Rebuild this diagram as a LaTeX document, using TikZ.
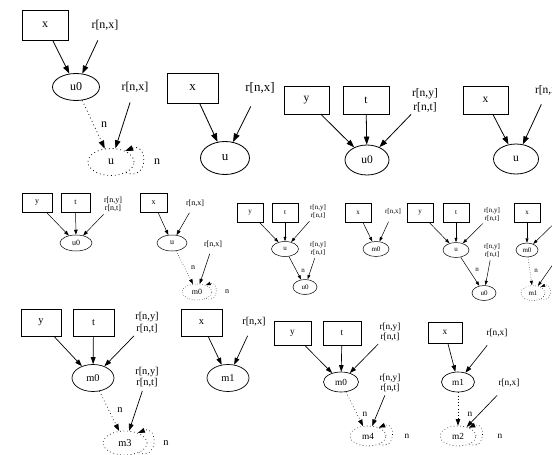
\documentclass[tikz,border=0pt]{standalone}
\usepackage{fontspec}
\setmainfont{Liberation Serif}
\usetikzlibrary{arrows.meta,shapes.geometric}
\tikzset{
  bx/.style 2 args={draw, rectangle, minimum width=#1pt, minimum height=#2pt, inner sep=0pt},
  el/.style 2 args={draw, ellipse, minimum width=#1pt, minimum height=#2pt, inner sep=0pt},
  del/.style 2 args={el={#1}{#2}, gd},
  lb/.style={inner sep=1pt, minimum height=#1pt, align=center},
  gd/.style={dash pattern=on .8pt off 3pt},
  pnl/.style n args={5}{font=\fontsize{#1}{#2}\selectfont, line width=#3pt,
     >={Triangle[length=#4pt,width=#5pt]}},
}
\newcommand\gloop[3]{\draw[->,gd] (#1.-35) .. controls +(#2,#3) and +(#2,-#3) .. (#1.38);}
\begin{document}
\begin{tikzpicture}[x=1pt,y=-1pt]
\useasboundingbox (0,0) rectangle (552,455);
\clip (0,0) rectangle (552,455);
\fill[white] (0,0) rectangle (552,455);

% ---------- Panel A ----------
\begin{scope}[pnl={12}{14}{.8}{8}{5.5}]
\node[bx={46}{30}] (xA) at (45,25) {x};
\node[lb=30] (rA1) at (105,25) {r[n,x]};
\node[el={47}{27}] (u0A) at (76,87) {u0};
\node[lb=30] (rA2) at (135,87) {r[n,x]};
\node[del={46}{27}] (uA) at (111,162) {u};
\draw[->] (xA) -- (u0A);
\draw[->] (rA1) -- (u0A);
\draw[->,gd] (u0A) -- (uA);
\node (nA1) at (104,125) {n};
\draw[->] (rA2) -- (uA);
\gloop{uA}{23}{9}
\node (nA2) at (157,162) {n};
\end{scope}

% ---------- Panel B ----------
\begin{scope}[pnl={13}{15}{.85}{8.5}{6}]
\node[bx={51}{30}] (xB) at (192.5,88) {x};
\node[lb=36] (rB) at (260,88) {r[n,x]};
\node[el={49}{33}] (uB) at (225,158) {u};
\draw[->] (xB) -- (uB);
\draw[->] (rB) -- (uB);
\end{scope}

% ---------- Panel C ----------
\begin{scope}[pnl={11.5}{14}{.8}{8}{5.5}]
\node[bx={45}{28}] (yC) at (306.5,100) {y};
\node[bx={46}{28}] (tC) at (366,100) {t};
\node[lb=28] (rC) at (425,100) {r[n,y]\\r[n,t]};
\node[el={44}{30}] (u0C) at (367,160) {u0};
\draw[->] (yC) -- (u0C);
\draw[->] (tC) -- (u0C);
\draw[->] (rC) -- (u0C);
\end{scope}

% ---------- Panel D ----------
\begin{scope}[pnl={11.5}{14}{.8}{8}{5.5}]
\node[bx={45}{28}] (xD) at (485.5,100) {x};
\node[lb=28] (rD) at (548,90) {r[n,x]};
\node[el={45}{30}] (uD) at (516,159) {u};
\draw[->] (xD) -- (uD);
\draw[->] (rD) -- (uD);
\end{scope}

% ---------- Panel E ----------
\begin{scope}[pnl={8}{8.5}{.5}{5}{3.5}, gd/.style={dash pattern=on .5pt off 2pt}]
\node[bx={30}{19}] (yE) at (37,202.5) {y};
\node[bx={29}{19}] (tE) at (75.5,202.5) {t};
\node[lb=19] (rE) at (113,204.5) {r[n,y]\\r[n,t]};
\node[el={32}{16}] (u0E) at (76,243) {u0};
\draw[->] (yE) -- (u0E);
\draw[->] (tE) -- (u0E);
\draw[->] (rE) -- (u0E);
\end{scope}

% ---------- Panel F ----------
\begin{scope}[pnl={8}{8.5}{.5}{5}{3.5}, gd/.style={dash pattern=on .5pt off 2pt}]
\node[bx={27}{19}] (xF) at (153.5,202.5) {x};
\node[lb=19] (rF1) at (195,203) {r[n,x]};
\node[el={30}{16}] (uF) at (172,243) {u};
\node[lb=19] (rF2) at (213,244) {r[n,x]};
\node[del={30}{16}] (m0F) at (197,292) {m0};
\draw[->] (xF) -- (uF);
\draw[->] (rF1) -- (uF);
\draw[->,gd] (uF) -- (m0F);
\node (nF1) at (193,268) {n};
\draw[->] (rF2) -- (m0F);
\gloop{m0F}{13}{5}
\node (nF2) at (227,292) {n};
\end{scope}

% ---------- Panel G ----------
\begin{scope}[pnl={7}{7.5}{.5}{4.5}{3}]
\node[bx={26}{19}] (yG) at (250,212.5) {y};
\node[bx={26}{19}] (tG) at (285,212.5) {t};
\node[lb=19] (rG1) at (318,211.5) {r[n,y]\\r[n,t]};
\node[el={27}{15}] (uG) at (285,249) {u};
\node[lb=19] (rG2) at (318,248.5) {r[n,y]\\r[n,t]};
\node[el={24}{15}] (u0G) at (305,287) {u0};
\draw[->] (yG) -- (uG);
\draw[->] (tG) -- (uG);
\draw[->] (rG1) -- (uG);
\draw[->] (uG) -- (u0G);
\node (nG) at (303,271) {n};
\draw[->] (rG2) -- (u0G);
\end{scope}

% ---------- Panel H ----------
\begin{scope}[pnl={7}{7.5}{.5}{4.5}{3}]
\node[bx={26}{19}] (xH) at (358,212.5) {x};
\node[lb=19] (rH) at (393,212) {r[n,x]};
\node[el={26}{15}] (m0H) at (376,249) {m0};
\draw[->] (xH) -- (m0H);
\draw[->] (rH) -- (m0H);
\end{scope}

% ---------- Panel I ----------
\begin{scope}[pnl={7}{7.5}{.5}{4.5}{3}]
\node[bx={26}{19}] (yI) at (420,213) {y};
\node[bx={26}{19}] (tI) at (456,213) {t};
\node[lb=19] (rI1) at (492,214.5) {r[n,y]\\r[n,t]};
\node[el={26}{15}] (uI) at (456,250) {u};
\node[lb=19] (rI2) at (492,250.5) {r[n,y]\\r[n,t]};
\node[el={24}{15}] (u0I) at (484,293) {u0};
\draw[->] (yI) -- (uI);
\draw[->] (tI) -- (uI);
\draw[->] (rI1) -- (uI);
\draw[->] (uI) -- (u0I);
\node (nI) at (477,270) {n};
\draw[->] (rI2) -- (u0I);
\end{scope}

% ---------- Panel J ----------
\begin{scope}[pnl={7}{7.5}{.5}{4.5}{3}, gd/.style={dash pattern=on .5pt off 2pt}]
\node[bx={26}{19}] (xJ) at (527,212.5) {x};
\node[lb=19] (rJ1) at (566,212) {r[n,x]};
\node[el={22}{14}] (m0J) at (527,250) {m0};
\node[lb=19] (rJ2) at (563,250) {r[n,x]};
\node[del={24}{15}] (m1J) at (533,293) {m1};
\draw[->] (xJ) -- (m0J);
\draw[->] (rJ1) -- (m0J);
\draw[->,gd] (m0J) -- (m1J);
\node (nJ) at (536,271) {n};
\draw[->] (rJ2) -- (m1J);
\gloop{m1J}{12}{5}
\end{scope}

% ---------- Panel K ----------
\begin{scope}[pnl={10.4}{11.5}{.7}{7}{4.8}, gd/.style={dash pattern=on .7pt off 2.8pt}]
\node[bx={40}{27}] (yK) at (41,322.5) {y};
\node[bx={41}{27}] (tK) at (93.5,322.5) {t};
\node[lb=27] (rK1) at (147,322.5) {r[n,y]\\r[n,t]};
\node[el={42}{27}] (m0K) at (93,378) {m0};
\node[lb=27] (rK2) at (147,377) {r[n,y]\\r[n,t]};
\node[del={44}{24}] (m3K) at (125,443) {m3};
\draw[->] (yK) -- (m0K);
\draw[->] (tK) -- (m0K);
\draw[->] (rK1) -- (m0K);
\draw[->,gd] (m0K) -- (m3K);
\node (nK1) at (120,410) {n};
\draw[->] (rK2) -- (m3K);
\gloop{m3K}{20}{8}
\node (nK2) at (166,443) {n};
\end{scope}

% ---------- Panel L ----------
\begin{scope}[pnl={10.4}{11.5}{.7}{7}{4.8}]
\node[bx={41}{27}] (xL) at (201.5,322.5) {x};
\node[lb=27] (rL) at (254,322) {r[n,x]};
\node[el={42}{27}] (m1L) at (228,378) {m1};
\draw[->] (xL) -- (m1L);
\draw[->] (rL) -- (m1L);
\end{scope}

% ---------- Panel M ----------
\begin{scope}[pnl={9.3}{10.5}{.65}{6.5}{4.5}, gd/.style={dash pattern=on .65pt off 2.6pt}]
\node[bx={37}{24}] (yM) at (292.5,333) {y};
\node[bx={38}{24}] (tM) at (342,333) {t};
\node[lb=24] (rM1) at (390,332) {r[n,y]\\r[n,t]};
\node[el={35}{20}] (m0M) at (341,382) {m0};
\node[lb=24] (rM2) at (390,383) {r[n,y]\\r[n,t]};
\node[del={36}{20}] (m4M) at (368,436) {m4};
\draw[->] (yM) -- (m0M);
\draw[->] (tM) -- (m0M);
\draw[->] (rM1) -- (m0M);
\draw[->,gd] (m0M) -- (m4M);
\node (nM1) at (365,414) {n};
\draw[->] (rM2) -- (m4M);
\gloop{m4M}{17}{7}
\node (nM2) at (407,436) {n};
\end{scope}

% ---------- Panel N ----------
\begin{scope}[pnl={9.3}{10.5}{.65}{6.5}{4.5}, gd/.style={dash pattern=on .65pt off 2.6pt}]
\node[bx={34}{21}] (xN) at (445,332.5) {x};
\node[lb=24] (rN1) at (497,333) {r[n,x]};
\node[el={33}{20}] (m1N) at (458,382) {m1};
\node[lb=24] (rN2) at (509,383) {r[n,x]};
\node[del={36}{20}] (m2N) at (458,436) {m2};
\draw[->] (xN) -- (m1N);
\draw[->] (rN1) -- (m1N);
\draw[->,gd] (m1N) -- (m2N);
\node (nN1) at (470,414) {n};
\draw[->] (rN2) -- (m2N);
\gloop{m2N}{17}{7}
\node (nN2) at (500,436) {n};
\end{scope}
\end{tikzpicture}
\end{document}
